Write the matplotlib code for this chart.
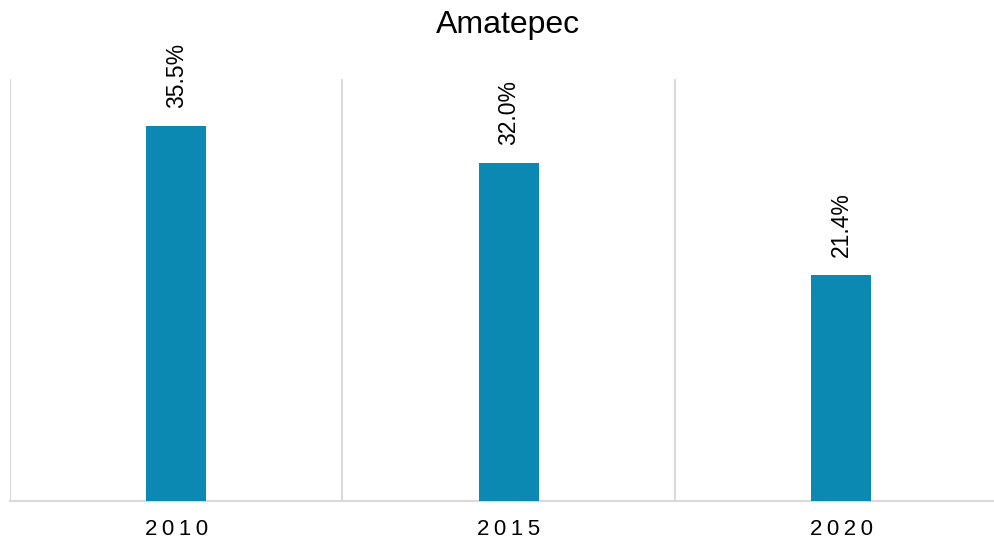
import matplotlib.pyplot as plt

years = ["2010", "2015", "2020"]
values = [35.5, 32.0, 21.4]

plt.rcParams['font.family'] = ['Liberation Sans', 'DejaVu Sans']

fig = plt.figure(figsize=(9.95, 5.41), dpi=100)
ax = fig.add_axes([10 / 995, 40 / 541, 997.5 / 995, 422 / 541])

x = range(len(years))
bars = ax.bar(x, values, width=0.18, color='#0B89B2', zorder=3)

for b, v in zip(bars, values):
    ax.annotate(f"{v:.1f}%", (b.get_x() + b.get_width() / 2, v),
                xytext=(0, 13), textcoords='offset points',
                rotation=90, ha='center', va='bottom', fontsize=16.5)

ax.set_xlim(-0.5, 2.5)
ax.set_ylim(0, 40)
ax.set_xticks(list(x))
ax.set_xticklabels(["\u2009".join(y) for y in years], fontsize=16)
ax.tick_params(axis='x', length=0, pad=13)
ax.set_yticks([])

# vertical separators between categories
for pos in [-0.5, 0.5, 1.5, 2.5]:
    ax.axvline(pos, color='#D9D9D9', lw=1.5, zorder=1)

for side in ['top', 'right', 'left']:
    ax.spines[side].set_visible(False)
ax.spines['bottom'].set_color('#D9D9D9')
ax.spines['bottom'].set_linewidth(1.5)

fig.text(508 / 995, 1 - 25 / 541, "Amatepec", ha='center', va='center', fontsize=23)

fig.savefig("out.png", dpi=100)
